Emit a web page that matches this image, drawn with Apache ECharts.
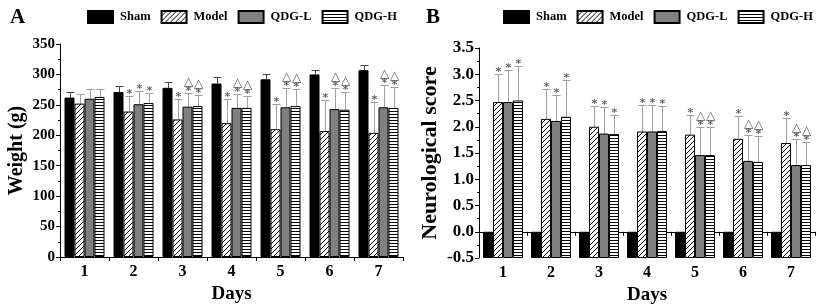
<!DOCTYPE html>
<html>
<head>
<meta charset="utf-8">
<script src="https://cdn.jsdelivr.net/npm/echarts@6/dist/echarts.min.js"></script>
<style>
  html, body { margin: 0; padding: 0; background: #fff; }
  #main { width: 824px; height: 305px; }
</style>
</head>
<body>
<div id="main"></div>
<script>
var days = ['1', '2', '3', '4', '5', '6', '7'];
var groups = ['Sham', 'Model', 'QDG-L', 'QDG-H'];

// A: weight (g)
var weightSham  = [262, 271, 278, 285, 292, 300, 307];
var weightModel = [252, 239, 226, 220, 210, 207, 204];
var weightQL    = [260, 251, 247, 245, 246, 243, 246];
var weightQH    = [263, 253, 248, 245, 248, 242, 245];
var weightShamSd  = [9, 10, 9, 10, 9, 8, 9];
var weightModelSd = [16, 26, 33, 39, 42, 51, 50];
var weightQLSd    = [16, 21, 23, 23, 31, 34, 37];
var weightQHSd    = [13, 16, 19, 20, 28, 29, 35];
var starA = [[0,0,0,0,0,0,0],[0,1,1,1,1,1,1],[0,1,1,1,1,1,1],[0,1,1,1,1,1,1]];
var triA  = [[0,0,0,0,0,0,0],[0,0,0,0,0,0,0],[0,0,1,1,1,1,1],[0,0,1,1,1,1,1]];

// B: neurological score
var scoreSham  = [0, 0, 0, 0, 0, 0, 0];
var scoreModel = [2.47, 2.15, 2.00, 1.91, 1.85, 1.77, 1.69];
var scoreQL    = [2.47, 2.11, 1.87, 1.91, 1.46, 1.35, 1.27];
var scoreQH    = [2.50, 2.19, 1.86, 1.92, 1.46, 1.33, 1.27];
var scoreShamSd  = [0, 0, 0, 0, 0, 0, 0];
var scoreModelSd = [0.53, 0.57, 0.40, 0.51, 0.37, 0.43, 0.48];
var scoreQLSd    = [0.61, 0.49, 0.51, 0.50, 0.53, 0.50, 0.49];
var scoreQHSd    = [0.65, 0.70, 0.36, 0.47, 0.53, 0.49, 0.44];
var starB = [[0,0,0,0,0,0,0],[1,1,1,1,1,1,1],[1,1,1,1,1,1,1],[1,1,1,1,1,1,1]];
var triB  = [[0,0,0,0,0,0,0],[0,0,0,0,0,0,0],[0,0,0,0,1,1,1],[0,0,0,0,1,1,1]];

var FONT = '"Liberation Serif", "Times New Roman", serif';
var BAR_W = 10;

function pattern(kind) {
    var c = document.createElement('canvas');
    var ctx;
    if (kind === 'diag') {
        c.width = 5; c.height = 5;
        ctx = c.getContext('2d');
        ctx.fillStyle = '#fff'; ctx.fillRect(0, 0, 5, 5);
        ctx.strokeStyle = '#000'; ctx.lineWidth = 1;
        ctx.beginPath();
        ctx.moveTo(-1, 6); ctx.lineTo(6, -1);
        ctx.moveTo(-1, 1); ctx.lineTo(1, -1);
        ctx.moveTo(4, 6); ctx.lineTo(6, 4);
        ctx.stroke();
    } else {
        c.width = 3; c.height = 3;
        ctx = c.getContext('2d');
        ctx.fillStyle = '#fff'; ctx.fillRect(0, 0, 3, 3);
        ctx.fillStyle = '#000'; ctx.fillRect(0, 0, 3, 1);
    }
    return { image: c, repeat: 'repeat' };
}

var fills = ['#000', pattern('diag'), '#808080', pattern('horiz')];

function errRender(params, api) {
    var xi = api.value(0), v = api.value(1), e = api.value(2), k = api.value(3);
    var star = api.value(4), tri = api.value(5);
    var base = api.coord([xi, v]);
    var top = api.coord([xi, v + e]);
    var x = Math.round(base[0] + (k - 1.5) * BAR_W) + 0.5;
    var yt = Math.round(top[1]) + 0.5;
    var col = k === 0 ? '#444' : '#a0a0a0';
    var ch = [];
    if (e > 0) {
        ch.push({ type: 'line', shape: { x1: x, y1: base[1], x2: x, y2: yt }, style: { stroke: col, lineWidth: 1 } });
        ch.push({ type: 'line', shape: { x1: x - 4, y1: yt, x2: x + 4, y2: yt }, style: { stroke: col, lineWidth: 1 } });
    }
    if (star) {
        ch.push({ type: 'text', x: x, y: yt + 3, style: { text: '*', fill: '#666', fontSize: 11, fontWeight: 'bold', fontFamily: 'DejaVu Sans', align: 'center', verticalAlign: 'bottom' } });
    }
    if (tri) {
        ch.push({ type: 'text', x: x, y: yt - 6, style: { text: '\u25B3', fill: '#555', fontSize: 12, fontFamily: 'DejaVu Sans', align: 'center', verticalAlign: 'bottom' } });
    }
    return { type: 'group', children: ch };
}

function errData(vals, sds, stars, tris) {
    var out = [];
    for (var k = 0; k < 4; k++) {
        for (var d = 0; d < days.length; d++) {
            out.push([d, vals[k][d], sds[k][d], k, stars[k][d], tris[k][d]]);
        }
    }
    return out;
}

function barSeries(idx, vals) {
    return groups.map(function (g, k) {
        return {
            name: g, type: 'bar', xAxisIndex: idx, yAxisIndex: idx,
            data: vals[k], barWidth: BAR_W, barGap: '0%',
            itemStyle: { color: fills[k], borderColor: '#000', borderWidth: 1 },
            silent: true
        };
    });
}

function xAxisOf(idx) {
    return {
        type: 'category', gridIndex: idx, data: days,
        name: 'Days', nameLocation: 'middle', nameGap: 26,
        nameTextStyle: { fontFamily: FONT, fontWeight: 'bold', fontSize: 19, color: '#000' },
        axisLine: { lineStyle: { color: '#000', width: 1 } },
        axisTick: { show: true, length: 4, lineStyle: { color: '#000' } },
        axisLabel: { fontFamily: FONT, fontWeight: 'bold', fontSize: 16, color: '#000', margin: 7 }
    };
}

function yAxisOf(idx, name, min, max, step, dec, gap, fs, nfs) {
    return {
        type: 'value', gridIndex: idx, min: min, max: max, interval: step,
        startValue: min,
        name: name, nameLocation: 'middle', nameGap: gap,
        nameTextStyle: { fontFamily: FONT, fontWeight: 'bold', fontSize: nfs, color: '#000' },
        axisLine: { show: true, lineStyle: { color: '#000', width: 1 } },
        axisTick: { show: true, length: 4, lineStyle: { color: '#000' } },
        minorTick: { show: true, splitNumber: 2, length: 2, lineStyle: { color: '#000' } },
        splitLine: { show: false },
        axisLabel: {
            fontFamily: FONT, fontWeight: 'bold', fontSize: fs, color: '#000', margin: 5,
            formatter: function (v) { return v.toFixed(dec); }
        }
    };
}

function legendOf(left) {
    return {
        left: left, top: 10, padding: 0, width: 320,
        icon: 'rect', itemWidth: 25, itemHeight: 12, itemGap: 10,
        data: groups, selectedMode: false,
        textStyle: { fontFamily: FONT, fontWeight: 'bold', fontSize: 12.5, color: '#000', padding: [0, 0, 0, 2] }
    };
}

var chart = echarts.init(document.getElementById('main'));
var option = {
    animation: false,
    backgroundColor: '#fff',
    title: [
        { text: 'A', left: 10, top: 7, padding: 0, textStyle: { fontFamily: FONT, fontWeight: 'bold', fontSize: 21, color: '#000' } },
        { text: 'B', left: 426, top: 7, padding: 0, textStyle: { fontFamily: FONT, fontWeight: 'bold', fontSize: 21, color: '#000' } }
    ],
    legend: [legendOf(87), legendOf(503)],
    grid: [
        { left: 60, right: 421, top: 44, bottom: 48, outerBoundsMode: 'none', containLabel: false },
        { left: 479, right: 9, top: 48, bottom: 47, outerBoundsMode: 'none', containLabel: false }
    ],
    xAxis: [xAxisOf(0), xAxisOf(1)],
    yAxis: [
        yAxisOf(0, 'Weight (g)', 0, 350, 50, 0, 33, 15, 20),
        yAxisOf(1, 'Neurological score', -0.5, 3.5, 0.5, 1, 38, 17, 22)
    ],
    series: []
        .concat(barSeries(0, [weightSham, weightModel, weightQL, weightQH]))
        .concat(barSeries(1, [scoreSham, scoreModel, scoreQL, scoreQH]))
        .concat([
            {
                type: 'custom', xAxisIndex: 0, yAxisIndex: 0, renderItem: errRender, silent: true,
                clip: false, encode: { x: 0, y: 1 },
                data: errData([weightSham, weightModel, weightQL, weightQH],
                              [weightShamSd, weightModelSd, weightQLSd, weightQHSd], starA, triA)
            },
            {
                type: 'custom', xAxisIndex: 1, yAxisIndex: 1, renderItem: errRender, silent: true,
                clip: false, encode: { x: 0, y: 1 },
                data: errData([scoreSham, scoreModel, scoreQL, scoreQH],
                              [scoreShamSd, scoreModelSd, scoreQLSd, scoreQHSd], starB, triB)
            }
        ])
};
chart.setOption(option);
</script>
</body>
</html>
